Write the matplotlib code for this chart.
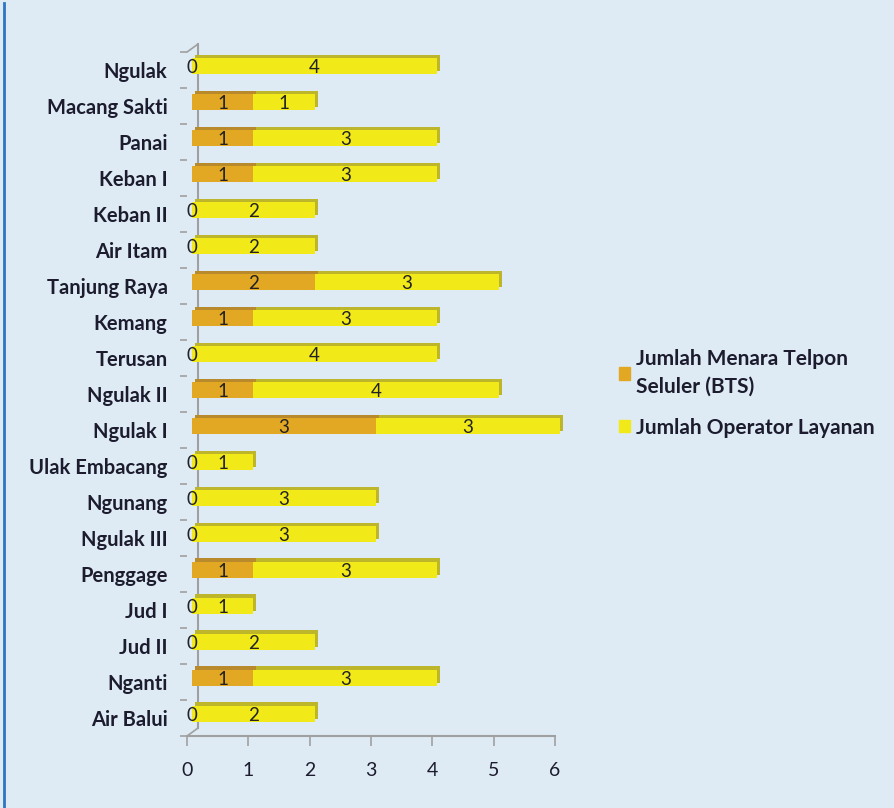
import numpy as np
import matplotlib.pyplot as plt
import matplotlib.transforms as mtransforms
import matplotlib.patheffects as pe
from matplotlib.patches import Patch

# data (bottom to top)
desa = ['Air Balui', 'Nganti', 'Jud II', 'Jud I', 'Penggage', 'Ngulak III',
        'Ngunang', 'Ulak Embacang', 'Ngulak I', 'Ngulak II', 'Terusan', 'Kemang',
        'Tanjung Raya', 'Air Itam', 'Keban II', 'Keban I', 'Panai',
        'Macang Sakti', 'Ngulak']
bts = [0, 1, 0, 0, 1, 0, 0, 0, 3, 1, 0, 1, 2, 0, 0, 1, 1, 1, 0]
operator = [2, 3, 2, 1, 3, 3, 3, 1, 3, 4, 4, 3, 3, 2, 2, 3, 3, 1, 4]
xticks = [0, 1, 2, 3, 4, 5, 6]

bg = '#deebf5'
c_bts = '#e3a823'
c_op = '#f2ea18'
txt = '#1c1c2e'

fig = plt.figure(figsize=(8.94, 8.08), dpi=100, facecolor=bg)
ax = fig.add_axes([0.2092, 0.0891, 0.4116, 0.8465])
ax.set_facecolor('none')

y = np.arange(len(desa))
shift = mtransforms.ScaledTranslation(5 / 100, 4 / 100, fig.dpi_scale_trans)
tr = ax.transData + shift

b1 = ax.barh(y, bts, height=0.47, color=c_bts, transform=tr, zorder=3, clip_on=False,
             path_effects=[pe.SimplePatchShadow(offset=(2.2, 2.2), shadow_rgbFace='#b98a2c', alpha=1), pe.Normal()])
b2 = ax.barh(y, operator, left=bts, height=0.47, color=c_op, transform=tr, zorder=3, clip_on=False,
             path_effects=[pe.SimplePatchShadow(offset=(2.2, 2.2), shadow_rgbFace='#bdb52a', alpha=1), pe.Normal()])

# value labels
for i in range(len(desa)):
    ax.text(bts[i] / 2, y[i] - 0.05, str(bts[i]), ha='center', va='center', fontsize=13.5,
            color='#222222', transform=tr, zorder=5, family='Lato')
    ax.text(bts[i] + operator[i] / 2, y[i] - 0.05, str(operator[i]), ha='center', va='center',
            fontsize=13.5, color='#222222', transform=tr, zorder=5, family='Lato')

ax.set_xlim(0, 6)
ax.set_ylim(-0.5, len(desa) - 0.5)

# back wall line (3D look)
wall = ax.transData + mtransforms.ScaledTranslation(11 / 100, 8 / 100, fig.dpi_scale_trans)
ax.plot([0, 0], [-0.5, len(desa) - 0.5], color='#a0a0a0', lw=1.5, transform=wall,
        clip_on=False, zorder=2)
ax.annotate('', xy=(0, -0.5), xytext=(0, -0.5), xycoords='data',
            textcoords=wall, arrowprops=dict(arrowstyle='-', color='#a0a0a0', lw=1.2,
                                             shrinkA=0, shrinkB=0))
ax.annotate('', xy=(0, len(desa) - 0.5), xytext=(0, len(desa) - 0.5), xycoords='data',
            textcoords=wall, arrowprops=dict(arrowstyle='-', color='#a0a0a0', lw=1.2,
                                             shrinkA=0, shrinkB=0))

for s in ['top', 'right', 'left']:
    ax.spines[s].set_visible(False)
ax.spines['bottom'].set_color('#a0a0a0')
ax.spines['bottom'].set_linewidth(1.5)

ax.set_yticks(y)
ax.set_yticklabels(desa, fontsize=14.5, fontweight='bold', color=txt, family='Lato')
ax.set_yticks(np.arange(len(desa) + 1) - 0.5, minor=True)
ax.tick_params(axis='y', which='major', length=0, pad=14)
ax.tick_params(axis='y', which='minor', length=5, color='#a0a0a0', width=1.2)
ax.set_xticks(xticks)
ax.tick_params(axis='x', length=7, color='#a0a0a0', width=1.2, pad=12,
               labelsize=14, labelcolor=txt)
for t in ax.get_xticklabels():
    t.set_family('Lato')

handles = [Patch(color=c_bts), Patch(color=c_op)]
fig.legend(handles, ['Jumlah Menara Telpon\nSeluler (BTS)', 'Jumlah Operator Layanan'],
           loc='center left', bbox_to_anchor=(0.692, 0.513), frameon=False,
           handlelength=0.55, handleheight=0.55, handletextpad=0.3, labelspacing=1.0,
           prop={'family': 'Lato', 'weight': 'bold', 'size': 15}, labelcolor=txt,
           borderaxespad=0, borderpad=0)
for t in fig.legends[0].get_texts():
    t.set_linespacing(1.45)

# left border line
fig.add_artist(plt.Line2D([0.005, 0.005], [0, 0.996], color='#2e75c4', lw=2,
                          transform=fig.transFigure))

fig.savefig('out.png', dpi=100, facecolor=bg)
